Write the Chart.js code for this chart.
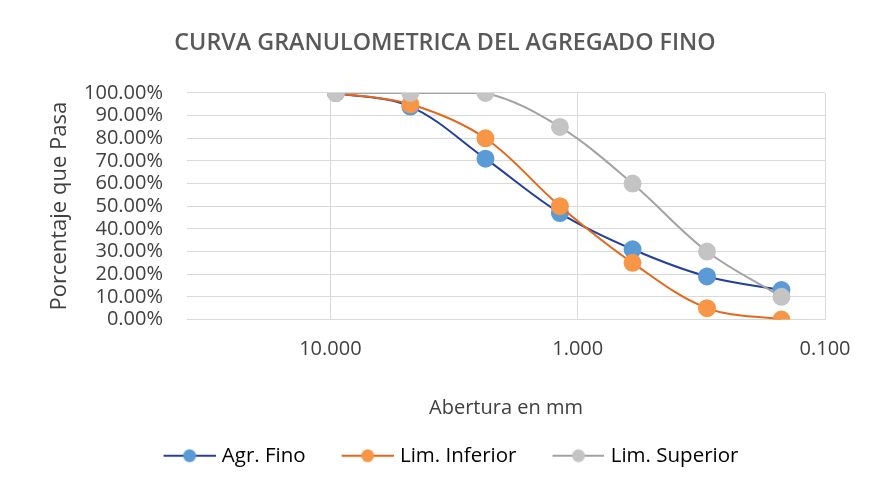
<!DOCTYPE html>
<html>
<head>
<meta charset="utf-8">
<script src="https://cdn.jsdelivr.net/npm/chart.js@4.4.1/dist/chart.umd.min.js"></script>
<style>
  html, body { margin: 0; padding: 0; background: #ffffff; }
  #wrap { width: 869px; height: 491px; }
</style>
</head>
<body>
<div id="wrap"><canvas id="c" width="869" height="491"></canvas></div>
<script>
const chartTitle = 'CURVA GRANULOMETRICA DEL AGREGADO FINO';
const xTitle = 'Abertura en mm';
const yTitle = 'Porcentaje que Pasa';
const aberturas = [9.5, 4.75, 2.36, 1.18, 0.6, 0.3, 0.15];
const agrFino = [100, 94, 71, 47, 31, 19, 13];
const limInferior = [100, 95, 80, 50, 25, 5, 0];
const limSuperior = [100, 100, 100, 85, 60, 30, 10];
const xTickValues = [10, 1, 0.1];
const seriesNames = ['Agr. Fino', 'Lim. Inferior', 'Lim. Superior'];

const lineColors = ['#233f9e', '#e4661a', '#a3a3a3'];
const fillColors = ['#5b9bd5', '#f79646', '#c4c4c4'];
const FONT = '"Open Sans", "Liberation Sans", sans-serif';

function pts(vals) { return aberturas.map((x, i) => ({ x: x, y: vals[i] })); }

function legendIcon(i) {
  const c = document.createElement('canvas');
  c.width = 82; c.height = 20;
  const g = c.getContext('2d');
  g.strokeStyle = lineColors[i]; g.lineWidth = 2;
  g.beginPath(); g.moveTo(30, 10); g.lineTo(82, 10); g.stroke();
  g.beginPath(); g.arc(56, 10, 6.5, 0, Math.PI * 2);
  g.fillStyle = fillColors[i]; g.fill();
  return c;
}

const seriesVals = [agrFino, limInferior, limSuperior];
const datasets = seriesNames.map((name, i) => ({
  label: name,
  data: pts(seriesVals[i]),
  showLine: true,
  borderColor: lineColors[i],
  borderWidth: 2,
  backgroundColor: fillColors[i],
  pointBackgroundColor: fillColors[i],
  pointBorderColor: fillColors[i],
  pointRadius: 8,
  pointHoverRadius: 8,
  tension: 0.35,
  order: 3 - i,
  pointStyle: 'circle'
}));
const icons = [0, 1, 2].map(legendIcon);

const legendShift = {
  id: 'legendShift',
  afterLayout(chart) {
    if (chart.legend) { chart.legend.left -= 7; chart.legend.right -= 7; }
  }
};

new Chart(document.getElementById('c'), {
  type: 'scatter',
  data: { datasets: datasets },
  plugins: [legendShift],
  options: {
    responsive: false,
    animation: false,
    devicePixelRatio: 1,
    layout: { padding: { left: 65, right: 44, top: 0, bottom: 15 } },
    plugins: {
      title: {
        display: true, text: chartTitle, color: '#595959',
        font: { family: FONT, size: 23.3, weight: '600' },
        padding: { top: 29, bottom: 36 }
      },
      legend: {
        position: 'bottom',
        labels: {
          color: '#404040',
          font: { family: FONT, size: 20.5 },
          usePointStyle: true,
          pointStyleWidth: 74,
          padding: 10,
          generateLabels: (chart) => seriesNames.map((n, i) => ({
            text: n, pointStyle: icons[i], datasetIndex: i,
            fillStyle: fillColors[i], strokeStyle: lineColors[i], lineWidth: 0, hidden: false
          }))
        }
      },
      tooltip: { enabled: false }
    },
    scales: {
      x: {
        type: 'logarithmic',
        reverse: true,
        min: 0.1, max: 38,
        afterBuildTicks: (s) => { s.ticks = xTickValues.map(v => ({ value: v })); },
        afterFit: (s) => { s.height = 116; },
        ticks: {
          color: '#404040', font: { family: FONT, size: 20 }, padding: 18,
          maxRotation: 0, autoSkip: false,
          callback: (v) => Number(v).toFixed(3)
        },
        grid: { color: '#d9d9d9', drawTicks: false, lineWidth: 1 },
        border: { display: false },
        title: {
          display: true, text: xTitle, color: '#404040',
          font: { family: FONT, size: 20 }, padding: { top: 0, bottom: 15 }
        }
      },
      y: {
        min: 0, max: 100,
        afterFit: (s) => { s.width = 122; },
        ticks: {
          stepSize: 10, autoSkip: false, color: '#404040', font: { family: FONT, size: 20 }, padding: 24,
          callback: (v) => Number(v).toFixed(2) + '%'
        },
        grid: { color: '#d9d9d9', drawTicks: false, lineWidth: 1 },
        border: { display: false },
        title: {
          display: true, text: yTitle, color: '#404040',
          font: { family: FONT, size: 22 }, padding: { top: -18.2, bottom: 0 }
        }
      }
    }
  }
});
</script>
</body>
</html>
